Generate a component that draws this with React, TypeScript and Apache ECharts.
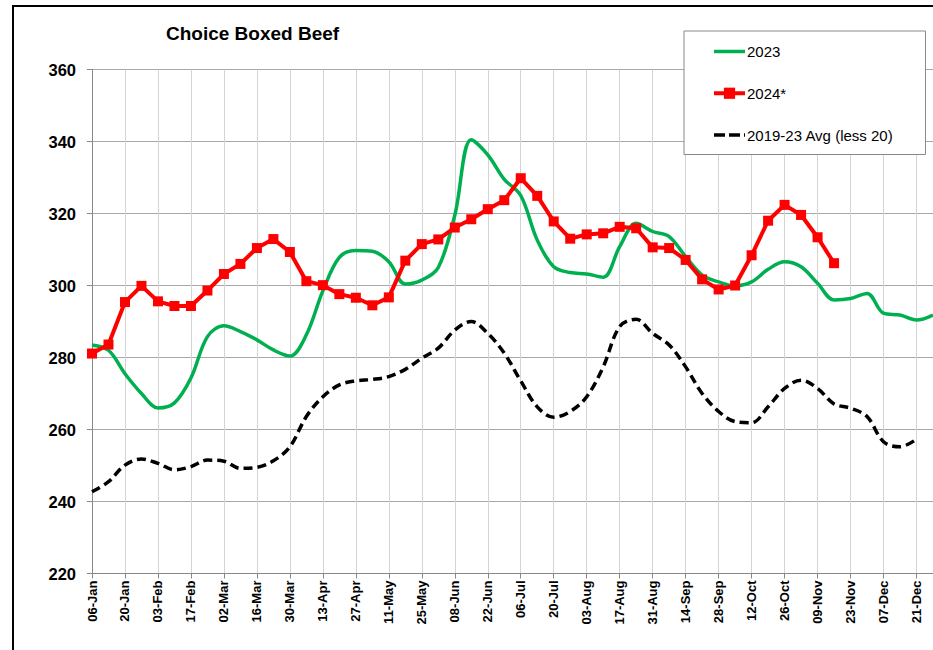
import React, { useEffect, useRef } from "react";
import * as echarts from "echarts";

const weeks: string[] = [
  "06-Jan","13-Jan","20-Jan","27-Jan","03-Feb","10-Feb","17-Feb","24-Feb",
  "02-Mar","09-Mar","16-Mar","23-Mar","30-Mar","06-Apr","13-Apr","20-Apr",
  "27-Apr","04-May","11-May","18-May","25-May","01-Jun","08-Jun","15-Jun",
  "22-Jun","29-Jun","06-Jul","13-Jul","20-Jul","27-Jul","03-Aug","10-Aug",
  "17-Aug","24-Aug","31-Aug","07-Sep","14-Sep","21-Sep","28-Sep","05-Oct",
  "12-Oct","19-Oct","26-Oct","02-Nov","09-Nov","16-Nov","23-Nov","30-Nov",
  "07-Dec","14-Dec","21-Dec","28-Dec",
];

const y2023: number[] = [
  283.5, 282, 275.5, 270, 266, 267.4, 274.3, 285.8,
  288.8, 287.2, 284.9, 282.1, 280.4, 286.3, 298.5, 307.8,
  309.7, 309.5, 306.6, 300.4, 301.5, 305, 319.5, 340.5,
  336.3, 329.5, 325, 312.6, 305.2, 303.6, 303.2, 302.3,
  310.8, 317.3, 315, 313.6, 308, 302.9, 301, 299.9,
  301, 304.5, 306.6, 305.2, 300.6, 296, 296.4, 297.8,
  292.3, 291.8, 290.4, 291.8,
];

const y2024: number[] = [
  281.1, 283.6, 295.4, 299.9, 295.6, 294.3, 294.3, 298.6,
  303.2, 306, 310.4, 312.9, 309.3, 301.2, 300.1, 297.6,
  296.6, 294.5, 296.7, 306.9, 311.5, 312.8, 316.1, 318.4,
  321.2, 323.7, 329.8, 324.9, 317.8, 313, 314.2, 314.5,
  316.3, 315.9, 310.6, 310.4, 307.1, 301.7, 298.9, 300,
  308.4, 318, 322.4, 319.6, 313.4, 306.2,
];

const yAvg: number[] = [
  242.7, 245.5, 250.1, 251.8, 250.6, 248.8, 249.7, 251.5,
  251.2, 249.2, 249.5, 251.3, 255.2, 263.6, 269.1, 272.4,
  273.5, 273.9, 274.7, 276.7, 279.8, 282.6, 287.6, 290,
  286.7, 281.2, 273.5, 266.3, 263.4, 265, 269.1, 277.4,
  288.6, 290.6, 286.7, 283.5, 277.4, 270, 265, 262.2,
  261.9, 266.3, 271.4, 273.7, 271.4, 267.1, 265.9, 263.6,
  256.6, 255.2, 257.3,
];

const seriesNames: string[] = ["2023", "2024*", "2019-23 Avg (less 20)"];
const titleText = "Choice Boxed Beef";

export default function App() {
  const ref = useRef<HTMLDivElement>(null);

  useEffect(() => {
    if (!ref.current) return;
    const chart = echarts.init(ref.current, undefined, { renderer: "svg" });
    const font = "Liberation Sans, Arial, Helvetica, sans-serif";
    chart.setOption({
      animation: false,
      backgroundColor: "#ffffff",
      textStyle: { fontFamily: font },
      title: {
        text: titleText,
        left: 166,
        top: 24,
        padding: 0,
        textStyle: { fontFamily: font, fontSize: 19, fontWeight: "bold", color: "#000" },
      },
      graphic: [
        {
          type: "rect",
          z: 100,
          silent: true,
          shape: { x: 13, y: 6, width: 960, height: 700 },
          style: { fill: "none", stroke: "#000", lineWidth: 2 },
        },
      ],
      legend: {
        left: 684,
        top: 31,
        orient: "vertical",
        backgroundColor: "#fff",
        borderColor: "#888",
        borderWidth: 1,
        borderRadius: 0,
        padding: [13, 32, 12, 28],
        itemGap: 26.75,
        itemWidth: 31,
        itemHeight: 14,
        data: [
          { name: seriesNames[0], itemStyle: { opacity: 0 }, lineStyle: { width: 3.5 } },
          { name: seriesNames[1], lineStyle: { width: 4 } },
          { name: seriesNames[2], itemStyle: { opacity: 0 }, lineStyle: { width: 3.5, type: [11, 4] } },
        ],
        textStyle: { fontFamily: font, fontSize: 15, color: "#000", padding: [0, 0, 0, -3] },
      },
      grid: { left: 92, top: 69.5, width: 841.5, height: 504, containLabel: false },
      xAxis: {
        type: "category",
        data: weeks,
        boundaryGap: false,
        axisLine: { lineStyle: { color: "#888", width: 1 } },
        axisTick: { show: true, interval: 1, length: 5, lineStyle: { color: "#888" } },
        axisLabel: {
          interval: 1,
          rotate: 90,
          margin: 7,
          fontSize: 13,
          fontWeight: "bold",
          color: "#000",
          fontFamily: font,
        },
        splitLine: { show: true, interval: 1, lineStyle: { color: "#d4d4d4", width: 1 } },
      },
      yAxis: {
        type: "value",
        min: 220,
        max: 360,
        interval: 20,
        axisLine: { show: true, lineStyle: { color: "#888", width: 1 } },
        axisTick: { show: true, length: 5, lineStyle: { color: "#888" } },
        axisLabel: {
          margin: 16,
          fontSize: 16.5,
          fontWeight: "bold",
          color: "#000",
          fontFamily: font,
        },
        splitLine: { show: true, lineStyle: { color: "#a8a8a8", width: 1 } },
      },
      series: [
        {
          name: seriesNames[0],
          type: "line",
          data: y2023,
          smooth: 0.35,
          symbol: "circle",
          showSymbol: false,
          lineStyle: { color: "#00b050", width: 3.5 },
          itemStyle: { color: "#00b050" },
          z: 2,
        },
        {
          name: seriesNames[1],
          type: "line",
          data: y2024,
          smooth: false,
          symbol: "rect",
          symbolSize: 10,
          lineStyle: { color: "#ff0000", width: 4 },
          itemStyle: { color: "#ff0000" },
          z: 4,
        },
        {
          name: seriesNames[2],
          type: "line",
          data: yAvg,
          smooth: 0.35,
          symbol: "circle",
          showSymbol: false,
          lineStyle: { color: "#000", width: 3.5, type: [9, 5] },
          itemStyle: { color: "#000" },
          z: 3,
        },
      ],
    });
    return () => chart.dispose();
  }, []);

  return (
    <div
      ref={ref}
      style={{ position: "fixed", left: 0, top: 0, width: 933, height: 650 }}
    />
  );
}
